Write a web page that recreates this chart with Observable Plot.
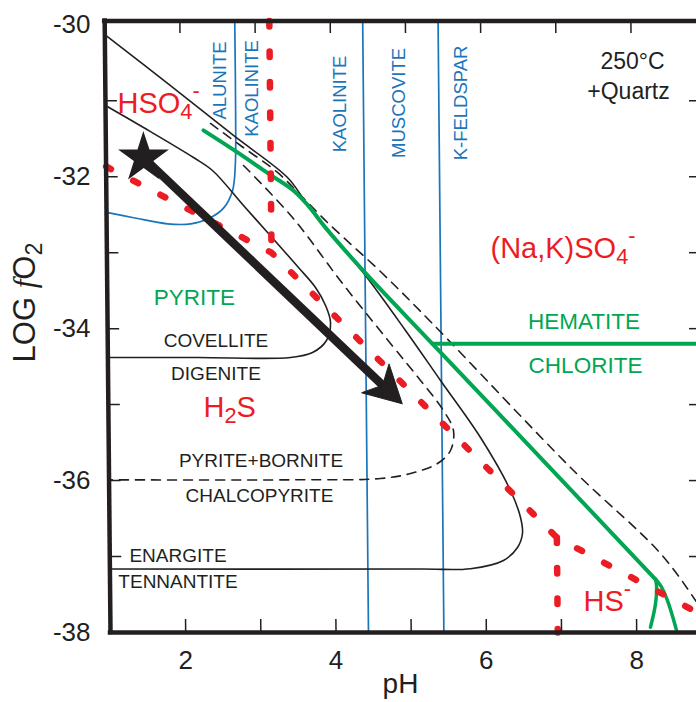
<!DOCTYPE html>
<html><head><meta charset="utf-8">
<script src="https://cdn.jsdelivr.net/npm/d3@7"></script>
<script src="https://cdn.jsdelivr.net/npm/@observablehq/plot@0.6"></script>
<style>
html,body{margin:0;padding:0;background:#fff;overflow:hidden;}
</style></head><body><div id="chart"></div>
<script>
// ---------- data (pH, log fO2) ----------
const blueAluniteKaolinite = [[1.0,-32.47],[1.36,-32.54],[1.81,-32.62],[2.12,-32.62],[2.38,-32.54],[2.56,-32.41],[2.68,-32.18],[2.72,-31.83],[2.73,-31.2],[2.73,-29.95]];
const blueKaoliniteMuscovite = [[4.432,-38],[4.432,-29.95]];
const blueMuscoviteKfeldspar = [[5.435,-38],[5.435,-29.95]];

const blackUpper = [[1.0,-30.13],[1.867,-30.80],[2.699,-31.457],[3.412,-32.01],[3.609,-32.273],[3.78,-32.51],[4.109,-32.905],[4.437,-33.3],[4.963,-34.024],[5.422,-34.682],[5.947,-35.433],[6.339,-36.131],[6.469,-36.486],[6.493,-36.697],[6.425,-36.881],[6.237,-37.052],[5.797,-37.16],[5.13,-37.165],[1.0,-37.165]];
const blackCovellite = [[1.0,-31.062],[1.503,-31.352],[2.164,-31.747],[2.415,-31.918],[2.823,-32.379],[3.152,-32.747],[3.547,-33.195],[3.771,-33.458],[3.902,-33.695],[3.966,-33.919],[3.91,-34.156],[3.723,-34.314],[3.429,-34.38],[2.2,-34.38],[1.0,-34.38]];
const dashedBornite = [[2.829,-31.852],[3.474,-32.537],[4.13,-33.405],[4.761,-34.195],[5.156,-34.682],[5.457,-35.077],[5.588,-35.341],[5.546,-35.604],[5.372,-35.775],[5.011,-35.907],[4.611,-35.973],[3.5,-35.99],[1.0,-35.99]];
const dashedOuter = [[2.395,-31.299],[2.791,-31.589],[3.28,-31.944],[3.588,-32.247],[3.952,-32.616],[4.664,-33.274],[5.321,-33.932],[7.18,-35.867],[8.327,-36.96],[8.787,-37.579],[9.0,-37.91]];

const greenPyrite = [[2.30,-31.39],[2.75,-31.68],[3.16,-31.96],[3.50,-32.19],[3.70,-32.40],[3.911,-32.67],[4.438,-33.27],[5.32,-34.2],[6.80,-35.76],[8.257,-37.3]];
const greenHematite = [[5.32,-34.2],[8.95,-34.2]];
const greenBranchLeft = [[8.257,-37.3],[8.27,-37.38],[8.254,-37.62],[8.184,-37.93]];
const greenBranchRight = [[8.257,-37.3],[8.323,-37.38],[8.414,-37.58],[8.53,-37.97]];

const redSulfate = [[1.0,-31.865],[3.19,-33.0],[6.95,-36.75],[8.759,-37.71],[9.1,-37.89]];
const redHSO4 = [[3.19,-29.95],[3.19,-33.0]];
const redHS = [[6.95,-36.75],[6.95,-38]];

const arrowStart = [1.5,-31.75];
const arrowTip = [4.91,-34.99];

// labels: [text, pH, log fO2]
const speciesLabels = [["HSO_{4}^{-}",1.093,-31.036],["(Na,K)SO_{4}^{-}",6.055,-32.945],["H_{2}S",2.237,-35.044],["HS^{-}",7.292,-37.592]];
const sulfideLabels = [["COVELLITE",2.403,-34.156],["DIGENITE",2.403,-34.597],["PYRITE+BORNITE",3.002,-35.742],["CHALCOPYRITE",2.982,-36.196],["ENARGITE",1.898,-36.986],["TENNANTITE",1.898,-37.335]];
const ironLabels = [["PYRITE",2.117,-33.596],["HEMATITE",7.299,-33.912],["CHLORITE",7.319,-34.492]];
const silicateLabels = [["ALUNITE",2.463,-30.733],["KAOLINITE",2.889,-30.838],["KAOLINITE",4.06,-31.042],["MUSCOVITE",4.838,-31.029],["K-FELDSPAR",5.663,-31.029]];
const noteLabels = [["250°C",7.944,-30.489],["+Quartz",7.891,-30.884]];

const xLabelTicks = [2,4,6,8];
const yLabelTicks = [-38,-36,-34,-32,-30];
const xMinorTicks = [2,3,4,5,6,7,8];
const yMinorTicks = [-37,-36,-35,-34,-33,-32,-31];
const xTitle = "pH";
const yTitle = "LOG *f*O_{2}";

// ---------- layout ----------
const W = 696, H = 702;
const xDomain = [1, 8.95], yDomain = [-38, -29.95];
const xRange = [110, 110 + 7.95*75.17], yRange = [632, 20.5];
const SHEAR = 0.0095, SHEAR_Y0 = 632;
const INK = "#231f20", RED = "#ed1c24", GREEN = "#00a651", BLUE = "#1a75bb";
const FONT = "'Liberation Sans', Arial, Helvetica, sans-serif";
const X = d => d[0], Y = d => d[1];
const sk = {ariaDescription: "sk"};

// arrow head polygon computed from the scales' pixel ratio
const kx = (xRange[1]-xRange[0])/(xDomain[1]-xDomain[0]);
const ky = (yRange[0]-yRange[1])/(yDomain[1]-yDomain[0]);
const ddx = (arrowTip[0]-arrowStart[0])*kx, ddy = -(arrowTip[1]-arrowStart[1])*ky;
const len = Math.hypot(ddx, ddy), ux = ddx/len, uy = ddy/len, nx = -uy, ny = ux;
const fromOff = (ox, oy) => [arrowTip[0] + ox/kx, arrowTip[1] - oy/ky];
const HL = 37, HW = 20, HN = 27;
const arrowHead = [
  arrowTip,
  fromOff(-HL*ux + HW*nx, -HL*uy + HW*ny),
  fromOff(-HN*ux, -HN*uy),
  fromOff(-HL*ux - HW*nx, -HL*uy - HW*ny),
  arrowTip
];
const shaftEnd = fromOff(-(HN-1)*ux, -(HN-1)*uy);

const lineOpts = (stroke, w, extra={}) => ({x:X, y:Y, stroke, strokeWidth:w, curve:"catmull-rom", ...sk, ...extra});
const redDash = {strokeDasharray:"5.5,25", strokeLinecap:"round"};
const blackDash = {strokeDasharray:"9,7"};

const svg = Plot.plot({
  width: W, height: H,
  marginLeft: 110, marginRight: 0, marginTop: 20, marginBottom: 70,
  style: {fontFamily: FONT, background: "#fff", overflow: "hidden", color: INK},
  x: {domain: xDomain, range: xRange},
  y: {domain: yDomain, range: yRange},
  marks: [
    Plot.line(blueAluniteKaolinite, lineOpts(BLUE, 1.7)),
    Plot.line(blueKaoliniteMuscovite, lineOpts(BLUE, 1.7, {curve:"linear"})),
    Plot.line(blueMuscoviteKfeldspar, lineOpts(BLUE, 1.7, {curve:"linear"})),
    Plot.line(blackUpper, lineOpts(INK, 1.6)),
    Plot.line(blackCovellite, lineOpts(INK, 1.6)),
    Plot.line(dashedBornite, lineOpts(INK, 1.6, blackDash)),
    Plot.line(dashedOuter, lineOpts(INK, 1.6, blackDash)),
    Plot.line(greenPyrite, lineOpts(GREEN, 4)),
    Plot.line(greenHematite, lineOpts(GREEN, 4, {curve:"linear"})),
    Plot.line(greenBranchLeft, lineOpts(GREEN, 3.5)),
    Plot.line(greenBranchRight, lineOpts(GREEN, 3.5)),
    Plot.line(redSulfate, lineOpts(RED, 6.5, {curve:"linear", ...redDash})),
    Plot.line(redHSO4, lineOpts(RED, 6.5, {curve:"linear", ...redDash})),
    Plot.line(redHS, lineOpts(RED, 6.5, {curve:"linear", ...redDash})),
    Plot.link([0], {x1: arrowStart[0], y1: arrowStart[1], x2: shaftEnd[0], y2: shaftEnd[1], stroke: INK, strokeWidth: 8.5, ...sk}),
    Plot.line(arrowHead, {x:X, y:Y, fill: INK, stroke: INK, strokeWidth: 1, strokeLinejoin: "miter", ...sk}),
    Plot.dot([arrowStart], {x:X, y:Y, symbol:"star", r:16, fill: INK, stroke:"none", ...sk}),
    // frame
    Plot.ruleX([xDomain[0]], {y1: yDomain[0], y2: yDomain[1], stroke: INK, strokeWidth: 4.5, strokeLinecap: "square", ...sk}),
    Plot.ruleY(yDomain, {x1: xDomain[0], x2: xDomain[1], stroke: INK, strokeWidth: 4.5, strokeLinecap: "square", ...sk}),
    // inward ticks
    Plot.axisX({anchor:"bottom", ticks: xMinorTicks, tickSize:-13, stroke: INK, strokeWidth:1.5, fill:"none", label:null, tickFormat: () => "", ...sk}),
    Plot.axisX({anchor:"top", ticks: xMinorTicks, tickSize:-12, stroke: INK, strokeWidth:1.5, fill:"none", label:null, tickFormat: () => "", ...sk}),
    Plot.axisY({anchor:"left", ticks: yMinorTicks, tickSize:-12, stroke: INK, strokeWidth:1.5, fill:"none", label:null, tickFormat: () => "", ...sk}),
    Plot.axisY({anchor:"right", ticks: yMinorTicks, tickSize:-8, stroke: INK, strokeWidth:1.5, fill:"none", label:null, tickFormat: () => ""}),
    // tick labels
    Plot.axisX({anchor:"bottom", ticks: xLabelTicks, tickSize:0, tickPadding:18, tickFormat: d => `${d}`, fontSize:26, fill: INK, label:null}),
    Plot.axisY({anchor:"left", ticks: yLabelTicks, tickSize:0, tickPadding:20, tickFormat: d => `${d}`, fontSize:26, fill: INK, label:null}),
    // titles
    Plot.text([xTitle], {frameAnchor:"bottom", text: d => d, textAnchor:"middle", lineAnchor:"middle", dx:-3, dy:52, fontSize:28, fill: INK}),
    Plot.text([yTitle], {frameAnchor:"left", text: d => d, textAnchor:"middle", lineAnchor:"middle", rotate:-90, dx:-85, dy:-24, fontSize:31, fill: INK}),
    // labels
    Plot.text(speciesLabels, {x: d => d[1], y: d => d[2], text: d => d[0], textAnchor:"start", fontSize:29, fill: RED}),
    Plot.text(sulfideLabels, {x: d => d[1], y: d => d[2], text: d => d[0], fontSize:19, fill: INK}),
    Plot.text(ironLabels, {x: d => d[1], y: d => d[2], text: d => d[0], fontSize:22.5, fill: GREEN}),
    Plot.text(silicateLabels, {x: d => d[1], y: d => d[2], text: d => d[0], rotate:-90, fontSize:18.5, fill: BLUE}),
    Plot.text(noteLabels, {x: d => d[1], y: d => d[2], text: d => d[0], fontSize:23, fill: INK})
  ]
});

// shear the drawing (not the texts) to follow the reference's slight slant
svg.querySelectorAll('[aria-description="sk"]').forEach(g => {
  const t = g.getAttribute("transform") || "";
  g.setAttribute("transform", `matrix(1,0,${SHEAR},1,${-SHEAR*SHEAR_Y0},0) ${t}`);
});

// rich text: _{sub} ^{sup} *italic*
function richify(el) {
  const s = el.textContent;
  if (!/_\{|\^\{|\*/.test(s)) return;
  const re = /_\{([^}]*)\}|\^\{([^}]*)\}|\*([^*]*)\*|([^_^*]+)/g;
  el.textContent = "";
  let cur = 0, m;
  while ((m = re.exec(s))) {
    const ts = document.createElementNS("http://www.w3.org/2000/svg", "tspan");
    let off = 0, size = 1, txt;
    if (m[1] != null) { txt = m[1]; off = 0.2; size = 0.75; }
    else if (m[2] != null) { txt = m[2]; off = -0.5; size = 0.75; }
    else if (m[3] != null) { txt = m[3]; ts.setAttribute("font-style", "italic"); ts.setAttribute("font-family", "'Liberation Serif', 'DejaVu Serif', serif"); }
    else txt = m[4];
    if (size !== 1) ts.setAttribute("font-size", `${size*100}%`);
    const d = (off - cur) / size;
    if (d) ts.setAttribute("dy", `${d}em`);
    cur = off;
    ts.textContent = txt;
    el.appendChild(ts);
  }
}
svg.querySelectorAll("text").forEach(richify);
document.getElementById("chart").appendChild(svg);
</script></body></html>
